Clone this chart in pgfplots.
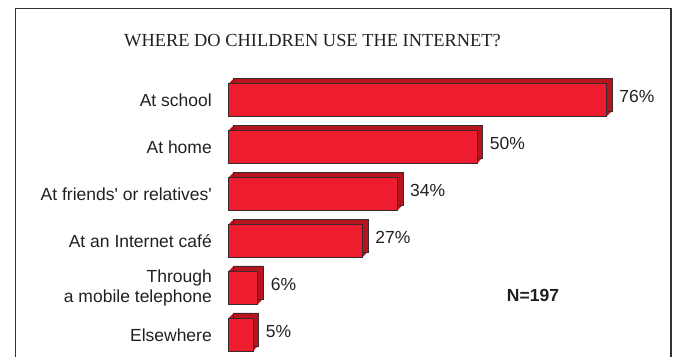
\documentclass[border=0pt]{standalone}
\usepackage{pgfplots}
\pgfplotsset{compat=1.18}
\usepackage{fontspec}
\setmainfont{Liberation Sans}
\newfontfamily\titlefont{Liberation Serif}
\definecolor{barfront}{HTML}{ED1C2E}
\definecolor{bardepth}{HTML}{B8141F}
\definecolor{baredge}{HTML}{3A2A2C}
\definecolor{txt}{HTML}{231F20}
\pgfplotstableread{
idx val
0 76
1 50
2 34
3 27
4 6
5 5
}\datatable
\pgfplotsset{
  barbase/.style={
    anchor=north west,
    scale only axis,
    width=398.4pt, height=281.4pt,
    xmin=0, xmax=80,
    ymin=-0.5, ymax=5.5,
    y dir=reverse,
    xbar, bar width=33pt,
    axis line style={draw=none},
    major tick length=0pt,
    xtick=\empty,
    /pgf/number format/assume math mode=true,
    clip=false,
  },
}
\begin{document}
\begin{tikzpicture}
\useasboundingbox (0pt,0pt) rectangle (677pt,356pt);
% frame
\draw[line width=1.4pt,color=black!80] (15.3pt,-5pt) -- (15.3pt,347.7pt) -- (671pt,347.7pt) -- (671pt,-5pt);
% title
\node[font=\titlefont\fontsize{18.4}{20}\selectfont,text=txt,anchor=base] at (312.5pt,309pt) {WHERE DO CHILDREN USE THE INTERNET?};
% depth of the bars: copies of the bars, each set a little further back
\pgfplotsinvokeforeach{5.5,5,4.5,4,3.5,3,2.5,2,1.5,1,0.5}{
\begin{axis}[barbase, at={(228pt+#1pt,279.15pt+#1pt)}, ytick=\empty]
  \addplot[xbar, fill=bardepth, draw=none] table[x=val,y=idx]{\datatable};
\end{axis}
}
\begin{axis}[barbase, at={(228pt+5.5pt,279.15pt+5.5pt)}, ytick=\empty]
  \addplot[xbar, fill=none, draw=baredge, line width=0.6pt] table[x=val,y=idx]{\datatable};
\end{axis}
% front faces
\begin{axis}[barbase, at={(228pt,279.15pt)},
  ytick={0,1,2,3,4,5},
  yticklabels={At school, At home, At friends\textquotesingle{} or relatives\textquotesingle, At an Internet café, {Through\\a mobile telephone}, Elsewhere},
  yticklabel style={font=\fontsize{17.5}{20}\selectfont, text=txt, align=right, inner sep=0pt, xshift=-16pt},
]
\addplot[xbar, fill=barfront, draw=baredge, line width=0.8pt,
  point meta=x,
  nodes near coords={\pgfmathprintnumber{\pgfplotspointmeta}\%},
  nodes near coords style={anchor=west, inner sep=0pt, xshift=12.5pt, yshift=3.5pt, font=\fontsize{17.5}{20}\selectfont, text=txt},
] table[x=val,y=idx]{\datatable};
\end{axis}
\node[font=\bfseries\fontsize{17.5}{20}\selectfont, text=txt] at (533pt,60.3pt) {N=197};
\end{tikzpicture}
\end{document}
